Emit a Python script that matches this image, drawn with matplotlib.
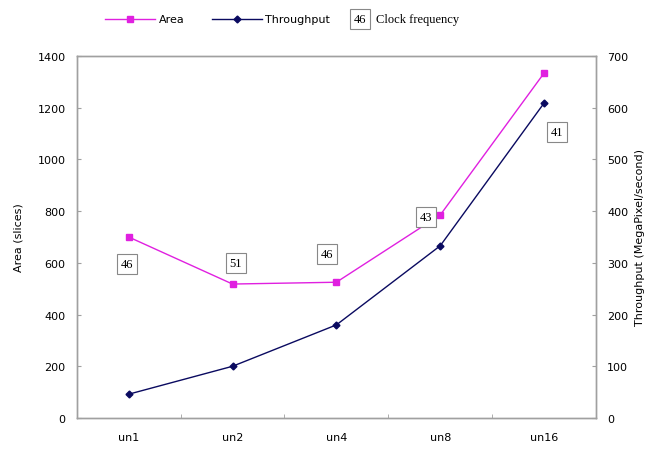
import numpy as np
import matplotlib.pyplot as plt
from matplotlib.lines import Line2D

# ----- 数据 -----
categories = ["un1", "un2", "un4", "un8", "un16"]
area = [700, 518, 525, 785, 1334]          # slices
throughput = [46, 100, 180, 333, 609]      # MegaPixel/second
clock_freq = ["46", "51", "46", "43", "41"]
# 标签框位置（类别索引, Area 轴数值）
label_x = [-0.02, 1.03, 1.91, 2.86, 4.12]
label_y = [596, 599, 634, 777, 1106]

AREA_C = "#e020e0"
THR_C = "#0a0a60"
SPINE_C = "#a0a0a0"
BOX = dict(boxstyle="square,pad=0.3", fc="white", ec="#888888", lw=0.8)

fig = plt.figure(figsize=(6.5, 4.52), dpi=100)
ax1 = fig.add_axes([0.118, 0.073, 0.799, 0.801])
ax2 = ax1.twinx()

x = np.arange(len(categories))
ax1.plot(x, area, color=AREA_C, lw=1.0, marker="s", ms=5, zorder=3)
ax2.plot(x, throughput, color=THR_C, lw=1.0, marker="D", ms=3.5, zorder=3)

ax1.set_xlim(-0.5, len(categories) - 0.5)
ax1.set_ylim(0, 1400)
ax2.set_ylim(0, 700)
ax1.set_yticks(np.arange(0, 1401, 200))
ax2.set_yticks(np.arange(0, 701, 100))
ax1.set_xticks(x)
ax1.set_xticklabels(categories)
ax1.set_xticks(np.arange(0.5, len(categories) - 0.5, 1), minor=True)
ax1.tick_params(axis="x", which="major", length=0, pad=10, labelsize=8)
ax1.tick_params(axis="x", which="minor", direction="in", length=3, color=SPINE_C)
ax1.tick_params(axis="y", direction="in", length=3, color=SPINE_C, labelsize=8, pad=8)
ax2.tick_params(axis="y", direction="in", length=3, color=SPINE_C, labelsize=8, pad=8)

for a in (ax1, ax2):
    for s in a.spines.values():
        s.set_color(SPINE_C)
        s.set_linewidth(1.0)

ax1.set_ylabel("Area (slices)", fontsize=8, labelpad=10)
ax2.set_ylabel("Throughput (MegaPixel/second)", fontsize=8, labelpad=5)

for xi, yi, t in zip(label_x, label_y, clock_freq):
    ax1.text(xi, yi, t, family="Liberation Serif", fontsize=9, ha="center", va="center",
             bbox=BOX, zorder=4)

# ----- 图例（手动摆放） -----
ly = 0.956
fig.add_artist(Line2D([0.162, 0.238], [ly, ly], color=AREA_C, lw=1.0))
fig.add_artist(Line2D([0.200], [ly], color=AREA_C, marker="s", ms=5, lw=0))
fig.text(0.244, ly, "Area", fontsize=8, ha="left", va="center")
fig.add_artist(Line2D([0.326, 0.403], [ly, ly], color=THR_C, lw=1.0))
fig.add_artist(Line2D([0.365], [ly], color=THR_C, marker="D", ms=3.5, lw=0))
fig.text(0.408, ly, "Throughput", fontsize=8, ha="left", va="center")
fig.text(0.554, ly, "46", family="Liberation Serif", fontsize=9, ha="center", va="center",
         bbox=BOX)
fig.text(0.578, ly, "Clock frequency", family="Liberation Serif", fontsize=9,
         ha="left", va="center")

plt.savefig("out.png", dpi=100)
